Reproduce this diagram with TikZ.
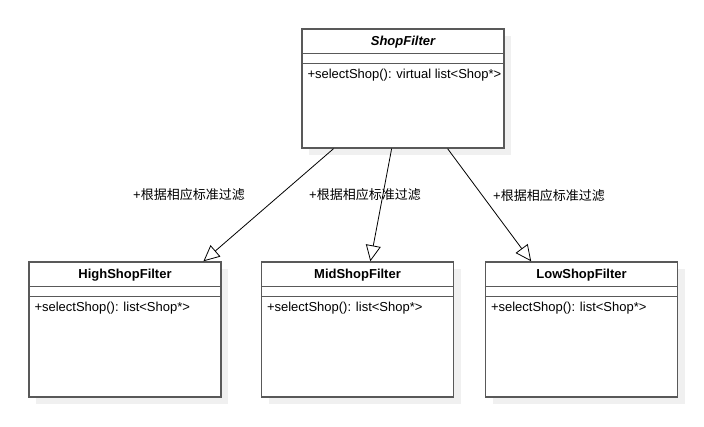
\documentclass[tikz,border=0pt]{standalone}
\usepackage{fontspec}
\setmainfont{Liberation Sans}
\newfontfamily\cjk{Noto Sans CJK SC}
\usetikzlibrary{arrows.meta,shadows}

\begin{document}
\begin{tikzpicture}[x=1pt, y=-1pt,
  classbox/.style={draw=black!65, line width=1.4pt, fill=white, inner sep=0pt,
    drop shadow={shadow xshift=7pt, shadow yshift=-7pt, opacity=1, fill=black!6}},
  titletext/.style={font=\fontsize{13}{15}\selectfont\bfseries, inner sep=0pt},
  optext/.style={font=\fontsize{13}{15}\selectfont, inner sep=0pt, anchor=west},
  guardtext/.style={font=\fontsize{13}{15}\selectfont, inner sep=0pt},
  compline/.style={draw=black!65, line width=1.4pt},
  inherit/.style={draw=black, line width=0.8pt, -{Triangle[length=16pt, width=15pt, fill=white]}}]

  \useasboundingbox (0,0) rectangle (704,426);

  \node[classbox, minimum width=202pt, minimum height=119pt] (shop) at (403,88.5) {};
  \node[classbox, minimum width=192pt, minimum height=135pt] (high) at (125,329.5) {};
  \node[classbox, minimum width=192pt, minimum height=135pt] (mid) at (357.5,329.5) {};
  \node[classbox, minimum width=192pt, minimum height=135pt] (low) at (581.5,329.5) {};

  % class titles and compartments
  \node[titletext, font=\fontsize{13}{15}\selectfont\bfseries\itshape] (shoptitle) at ([yshift=-13.5pt]shop.north) {ShopFilter};
  \draw[compline] ([yshift=-25pt]shop.north west) -- ([yshift=-25pt]shop.north east);
  \draw[compline] ([yshift=-35pt]shop.north west) -- ([yshift=-35pt]shop.north east);
  \node[optext] (shopop) at ([shift={(6pt,-46.5pt)}]shop.north west) {+selectShop(): virtual list<Shop*>};

  \foreach \cls/\name in {high/HighShopFilter, mid/MidShopFilter, low/LowShopFilter} {
    \node[titletext] (\cls title) at ([yshift=-13.5pt]\cls.north) {\name};
    \draw[compline] ([yshift=-25pt]\cls.north west) -- ([yshift=-25pt]\cls.north east);
    \draw[compline] ([yshift=-35pt]\cls.north west) -- ([yshift=-35pt]\cls.north east);
    \node[optext] (\cls op) at ([shift={(6pt,-46.5pt)}]\cls.north west) {+selectShop(): list<Shop*>};
  }

  % generalisations
  \draw[inherit] (shop) -- (high);
  \draw[inherit] (shop) -- (mid);
  \draw[inherit] (shop) -- (low);

  \node[guardtext] (highlabel) at (189,195) {+\cjk 根据相应标准过滤};
  \node[guardtext] (midlabel) at (365,195) {+\cjk 根据相应标准过滤};
  \node[guardtext] (lowlabel) at (549,196) {+\cjk 根据相应标准过滤};

\end{tikzpicture}
\end{document}
